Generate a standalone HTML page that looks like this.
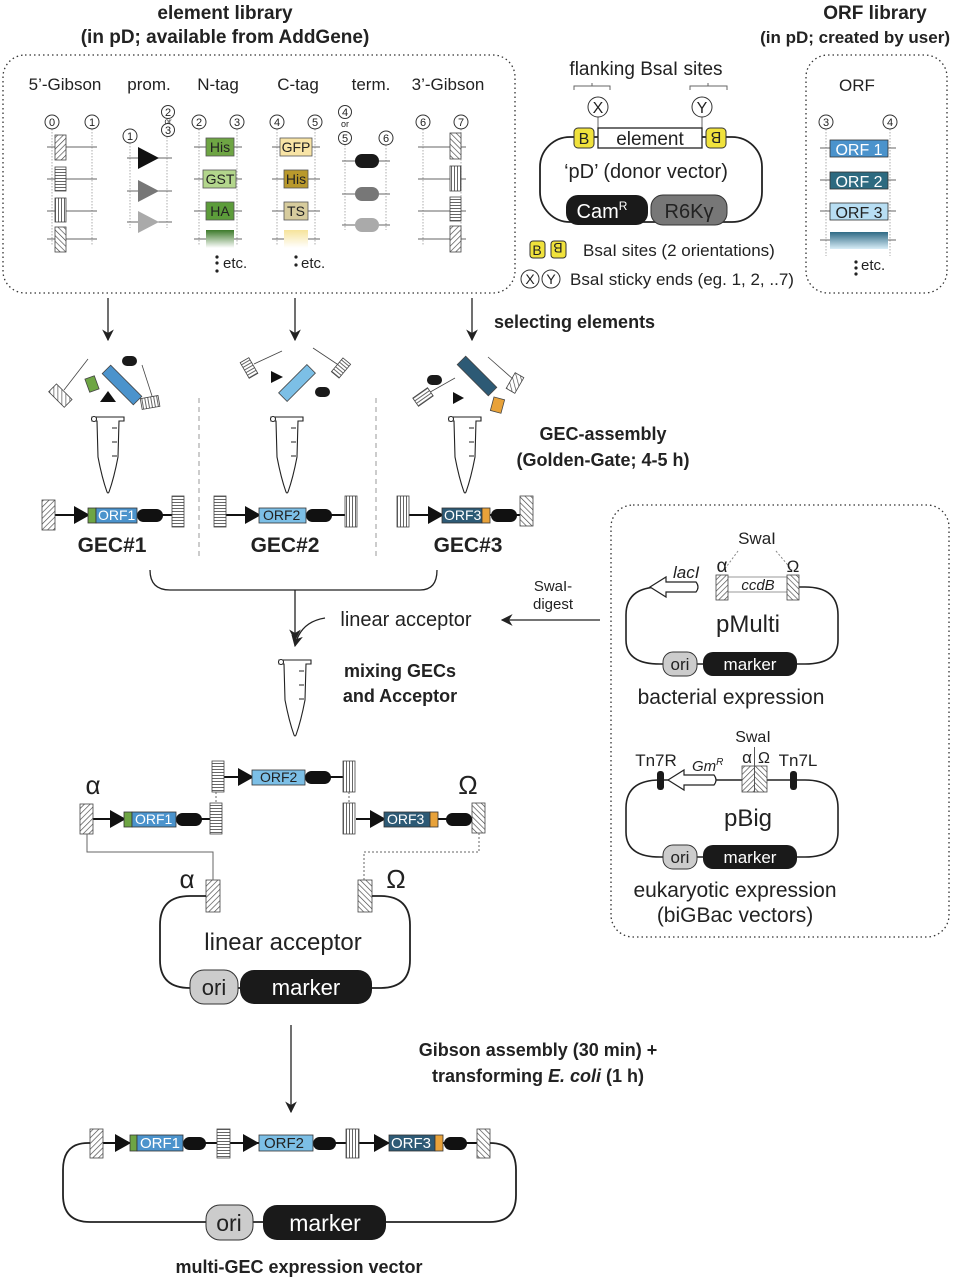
<!DOCTYPE html>
<html><head><meta charset="utf-8"><style>html,body{margin:0;padding:0;background:#fff}svg{display:block}text{font-family:"Liberation Sans",sans-serif;fill:#222}</style></head><body>
<svg width="953" height="1280" viewBox="0 0 953 1280" xmlns="http://www.w3.org/2000/svg">
<defs>
<pattern id="hd" width="4" height="4" patternUnits="userSpaceOnUse" patternTransform="rotate(45)"><rect width="4" height="4" fill="#fff"/><line x1="0" y1="0" x2="0" y2="4" stroke="#444" stroke-width="1.3"/></pattern>
<pattern id="hd2" width="4" height="4" patternUnits="userSpaceOnUse" patternTransform="rotate(-45)"><rect width="4" height="4" fill="#fff"/><line x1="0" y1="0" x2="0" y2="4" stroke="#444" stroke-width="1.3"/></pattern>
<pattern id="hh" width="3" height="3" patternUnits="userSpaceOnUse"><rect width="3" height="3" fill="#fff"/><line x1="0" y1="1.5" x2="3" y2="1.5" stroke="#555" stroke-width="0.9"/></pattern>
<pattern id="hv" width="3" height="3" patternUnits="userSpaceOnUse"><rect width="3" height="3" fill="#fff"/><line x1="1.5" y1="0" x2="1.5" y2="3" stroke="#555" stroke-width="0.9"/></pattern>
<linearGradient id="gg" x1="0" y1="0" x2="0" y2="1"><stop offset="0" stop-color="#3d7a2a"/><stop offset="1" stop-color="#fff"/></linearGradient>
<linearGradient id="gy" x1="0" y1="0" x2="0" y2="1"><stop offset="0" stop-color="#f6e39a"/><stop offset="1" stop-color="#fff"/></linearGradient>
<linearGradient id="gb" x1="0" y1="0" x2="0" y2="1"><stop offset="0" stop-color="#2f6a85"/><stop offset="1" stop-color="#d8edf7"/></linearGradient>
<marker id="ar" viewBox="0 0 10 10" refX="9" refY="5" markerWidth="9" markerHeight="9" orient="auto"><path d="M0,0 L10,5 L0,10 L3,5z" fill="#222"/></marker>
</defs>

<g font-weight="bold" font-size="19" text-anchor="middle">
<text x="225" y="19">element library</text><text x="225" y="43">(in pD; available from AddGene)</text>
<text x="875" y="19">ORF library</text><text x="950" y="43" font-size="17" text-anchor="end">(in pD; created by user)</text>
</g>

<rect x="3" y="55" width="512" height="238" rx="22" fill="none" stroke="#333" stroke-width="1.3" stroke-dasharray="1.5,3"/>
<g font-size="17" text-anchor="middle">
<text x="65" y="90">5’-Gibson</text><text x="149" y="90">prom.</text><text x="218" y="90">N-tag</text><text x="298" y="90">C-tag</text><text x="371" y="90">term.</text><text x="448" y="90">3’-Gibson</text>
</g>
<g stroke="#999" stroke-width="0.8" stroke-dasharray="1.5,1.5" fill="none">
<line x1="52" y1="129" x2="52" y2="245"/><line x1="92" y1="129" x2="92" y2="245"/>
<line x1="130" y1="143" x2="130" y2="228"/><line x1="167" y1="137" x2="167" y2="228"/>
<line x1="199" y1="129" x2="199" y2="245"/><line x1="237" y1="129" x2="237" y2="245"/>
<line x1="277" y1="129" x2="277" y2="245"/><line x1="315" y1="129" x2="315" y2="245"/>
<line x1="345" y1="145" x2="345" y2="230"/><line x1="386" y1="145" x2="386" y2="230"/>
<line x1="423" y1="129" x2="423" y2="245"/><line x1="461" y1="129" x2="461" y2="245"/>
<line x1="826" y1="129" x2="826" y2="256"/><line x1="890" y1="129" x2="890" y2="256"/>
</g>
<g fill="#fff" stroke="#333" stroke-width="1">
<circle cx="52" cy="122" r="7"/><circle cx="92" cy="122" r="7"/><circle cx="130" cy="136" r="7"/><circle cx="168" cy="130" r="6.5"/><circle cx="168" cy="112" r="6.5"/>
<circle cx="199" cy="122" r="7"/><circle cx="237" cy="122" r="7"/><circle cx="277" cy="122" r="7"/><circle cx="315" cy="122" r="7"/>
<circle cx="345" cy="138" r="6.5"/><circle cx="345" cy="112" r="6.5"/><circle cx="386" cy="138" r="7"/>
<circle cx="423" cy="122" r="7"/><circle cx="461" cy="122" r="7"/><circle cx="826" cy="122" r="7"/><circle cx="890" cy="122" r="7"/>
</g>
<g font-size="11" text-anchor="middle">
<text x="52" y="126">0</text><text x="92" y="126">1</text><text x="130" y="140">1</text><text x="168" y="134">3</text><text x="168" y="116">2</text><text x="168" y="124" font-size="8">or</text>
<text x="199" y="126">2</text><text x="237" y="126">3</text><text x="277" y="126">4</text><text x="315" y="126">5</text>
<text x="345" y="142">5</text><text x="345" y="116">4</text><text x="345" y="127" font-size="9">or</text><text x="386" y="142">6</text>
<text x="423" y="126">6</text><text x="461" y="126">7</text><text x="826" y="126">3</text><text x="890" y="126">4</text>
</g>
<g stroke="#666" stroke-width="1">
<line x1="47" y1="147" x2="97" y2="147"/><line x1="47" y1="179" x2="97" y2="179"/><line x1="47" y1="211" x2="97" y2="211"/><line x1="47" y1="239" x2="97" y2="239"/>
<line x1="127" y1="158" x2="172" y2="158"/><line x1="127" y1="191" x2="172" y2="191"/><line x1="127" y1="222" x2="172" y2="222"/>
<line x1="194" y1="147" x2="242" y2="147"/><line x1="194" y1="179" x2="242" y2="179"/><line x1="194" y1="211" x2="242" y2="211"/><line x1="194" y1="239" x2="242" y2="239"/>
<line x1="272" y1="147" x2="320" y2="147"/><line x1="272" y1="179" x2="320" y2="179"/><line x1="272" y1="211" x2="320" y2="211"/><line x1="272" y1="239" x2="320" y2="239"/>
<line x1="342" y1="161" x2="390" y2="161"/><line x1="342" y1="194" x2="390" y2="194"/><line x1="342" y1="225" x2="390" y2="225"/>
<line x1="418" y1="147" x2="466" y2="147"/><line x1="418" y1="179" x2="466" y2="179"/><line x1="418" y1="211" x2="466" y2="211"/><line x1="418" y1="239" x2="466" y2="239"/>
<line x1="820" y1="148" x2="896" y2="148"/><line x1="820" y1="180" x2="896" y2="180"/><line x1="820" y1="211" x2="896" y2="211"/><line x1="820" y1="240" x2="896" y2="240"/>
</g>
<g stroke="#444" stroke-width="0.8">
<rect x="55" y="135" width="11" height="25" fill="url(#hd)"/><rect x="55" y="167" width="11" height="24" fill="url(#hh)"/><rect x="55" y="198" width="11" height="24" fill="url(#hv)"/><rect x="55" y="227" width="11" height="25" fill="url(#hd2)"/>
<rect x="450" y="133" width="11" height="26" fill="url(#hd2)"/><rect x="450" y="166" width="11" height="25" fill="url(#hv)"/><rect x="450" y="197" width="11" height="24" fill="url(#hh)"/><rect x="450" y="226" width="11" height="26" fill="url(#hd)"/>
</g>
<path d="M138,147 L159,158 L138,169z" fill="#111"/><path d="M138,180 L159,191 L138,202z" fill="#777"/><path d="M138,211 L159,222 L138,233z" fill="#aaa"/>
<g stroke="#555" stroke-width="0.8">
<rect x="206" y="138" width="28" height="18" fill="#6ea544"/><rect x="203" y="170" width="33" height="18" fill="#b3d68c"/><rect x="206" y="202" width="28" height="18" fill="#5c9c3a"/>
<rect x="206" y="230" width="28" height="18" fill="url(#gg)" stroke="none"/>
<rect x="280" y="138" width="32" height="18" fill="#f8e4a6"/><rect x="284" y="170" width="24" height="18" fill="#b9992c"/><rect x="284" y="202" width="24" height="18" fill="#d7cc9d"/>
<rect x="284" y="230" width="24" height="18" fill="url(#gy)" stroke="none"/>
</g>
<g font-size="14" text-anchor="middle"><text x="220" y="152">His</text><text x="220" y="184">GST</text><text x="220" y="216">HA</text><text x="296" y="152">GFP</text><text x="296" y="184">His</text><text x="296" y="216">TS</text></g>
<rect x="355" y="154" width="24" height="14" rx="7" fill="#1a1a1a"/><rect x="355" y="187" width="24" height="14" rx="7" fill="#777"/><rect x="355" y="218" width="24" height="14" rx="7" fill="#aaa"/>
<g fill="#222"><circle cx="217" cy="257" r="1.6"/><circle cx="217" cy="263" r="1.6"/><circle cx="217" cy="271" r="1.6"/><circle cx="296" cy="257" r="1.6"/><circle cx="296" cy="265" r="1.6"/><circle cx="856" cy="262" r="1.6"/><circle cx="856" cy="268" r="1.6"/><circle cx="856" cy="274" r="1.6"/></g>
<g font-size="15"><text x="223" y="268">etc.</text><text x="301" y="268">etc.</text><text x="861" y="270">etc.</text></g>

<text x="646" y="75" font-size="19" text-anchor="middle">flanking BsaI sites</text>
<path d="M574,90 v-4 h36 v4 M592,86 v-3 M690,90 v-4 h37 v4 M708,86 v-3" stroke="#666" fill="none"/>
<line x1="598" y1="117" x2="598" y2="128" stroke="#666"/><line x1="702" y1="117" x2="702" y2="128" stroke="#666"/>
<circle cx="598" cy="107" r="10" fill="#fff" stroke="#333"/><circle cx="702" cy="107" r="10" fill="#fff" stroke="#333"/>
<text x="598" y="113" font-size="16" text-anchor="middle">X</text><text x="702" y="113" font-size="16" text-anchor="middle">Y</text>
<rect x="540" y="137" width="222" height="85" rx="30" fill="none" stroke="#222" stroke-width="1.8"/>
<rect x="598" y="128" width="104" height="20" fill="#fff" stroke="#222" stroke-width="1.3"/>
<text x="650" y="145" font-size="19" text-anchor="middle">element</text>
<rect x="574" y="128" width="20" height="20" rx="4" fill="#f0e23c" stroke="#333"/><rect x="706" y="128" width="20" height="20" rx="4" fill="#f0e23c" stroke="#333"/>
<text x="584" y="144" font-size="16" text-anchor="middle">B</text><text x="716" y="144" font-size="16" text-anchor="middle" transform="rotate(180 716 138)">B</text>
<text x="646" y="178" font-size="20" text-anchor="middle">‘pD’ (donor vector)</text>
<rect x="566" y="195" width="82" height="30" rx="12" fill="#1a1a1a"/><rect x="651" y="195" width="76" height="30" rx="12" fill="#777" stroke="#333"/>
<text x="602" y="218" font-size="20" text-anchor="middle" style="fill:#fff">Cam<tspan font-size="12" dy="-8">R</tspan></text>
<text x="689" y="218" font-size="20" text-anchor="middle" style="fill:#222">R6Kγ</text>
<rect x="530" y="241" width="15" height="17" rx="3" fill="#f0e23c" stroke="#333"/><rect x="551" y="241" width="15" height="17" rx="3" fill="#f0e23c" stroke="#333"/>
<text x="537" y="255" font-size="14" text-anchor="middle">B</text><text x="558" y="255" font-size="14" text-anchor="middle" transform="rotate(180 558 249)">B</text>
<text x="583" y="256" font-size="17">BsaI sites (2 orientations)</text>
<circle cx="530" cy="279" r="9" fill="#fff" stroke="#333"/><circle cx="551" cy="279" r="9" fill="#fff" stroke="#333"/>
<text x="530" y="284" font-size="14" text-anchor="middle">X</text><text x="551" y="284" font-size="14" text-anchor="middle">Y</text>
<text x="570" y="285" font-size="17">BsaI sticky ends (eg. 1, 2, ..7)</text>

<rect x="806" y="55" width="141" height="238" rx="22" fill="none" stroke="#333" stroke-width="1.3" stroke-dasharray="1.5,3"/>
<text x="857" y="91" font-size="17" text-anchor="middle">ORF</text>
<rect x="830" y="140" width="58" height="17" fill="#4b93cc" stroke="#333" stroke-width="0.8"/><rect x="830" y="172" width="58" height="17" fill="#2d6a80" stroke="#333" stroke-width="0.8"/><rect x="830" y="203" width="58" height="17" fill="#b8def3" stroke="#333" stroke-width="0.8"/><rect x="830" y="232" width="58" height="17" fill="url(#gb)"/>
<g font-size="16" text-anchor="middle"><text x="859" y="155" style="fill:#fff">ORF 1</text><text x="859" y="187" style="fill:#fff">ORF 2</text><text x="859" y="218">ORF 3</text></g>

<g stroke="#222" stroke-width="1.3" fill="none" marker-end="url(#ar)">
<line x1="108" y1="298" x2="108" y2="340"/><line x1="295" y1="298" x2="295" y2="340"/><line x1="472" y1="298" x2="472" y2="340"/>
<line x1="291" y1="1025" x2="291" y2="1112"/><line x1="600" y1="620" x2="502" y2="620"/>
<path d="M295,590 V640"/><path d="M325,618 Q300,622 295,646"/>
</g>
<text x="494" y="328" font-size="18" font-weight="bold">selecting elements</text>

<g stroke="#444" stroke-width="0.8">
<line x1="88" y1="359" x2="64" y2="390"/><rect x="55" y="385" width="11" height="22" fill="url(#hd)" transform="rotate(-45 60 396)"/>
<rect x="87" y="377" width="10" height="14" fill="#6ea544" transform="rotate(-20 92 384)"/>
<rect x="116" y="363" width="12" height="44" fill="#4b93cc" transform="rotate(-45 122 385)"/>
<line x1="142" y1="365" x2="153" y2="399"/><rect x="145" y="393" width="11" height="18" fill="url(#hh)" transform="rotate(80 150 402)"/>
<line x1="282" y1="351" x2="254" y2="364"/><rect x="244" y="359" width="10" height="18" fill="url(#hh)" transform="rotate(-30 249 368)"/>
<rect x="291" y="363" width="12" height="40" fill="#7cbfe6" transform="rotate(45 297 383)"/>
<line x1="313" y1="348" x2="340" y2="366"/><rect x="336" y="359" width="10" height="18" fill="url(#hh)" transform="rotate(40 341 368)"/>
<line x1="455" y1="378" x2="425" y2="395"/><rect x="418" y="388" width="10" height="18" fill="url(#hv)" transform="rotate(55 423 397)"/>
<rect x="471" y="354" width="12" height="44" fill="#2d5a75" transform="rotate(-45 477 376)"/>
<line x1="488" y1="357" x2="514" y2="380"/><rect x="510" y="374" width="10" height="18" fill="url(#hd2)" transform="rotate(30 515 383)"/>
<rect x="492" y="398" width="11" height="14" fill="#e8a23a" transform="rotate(15 497 405)"/>
</g>
<rect x="122" y="356" width="15" height="10" rx="5" fill="#1a1a1a"/><path d="M108,391 l8,11 h-16z" fill="#111"/>
<rect x="315" y="387" width="15" height="10" rx="5" fill="#1a1a1a"/><path d="M271,371 l12,6 l-12,6z" fill="#111"/>
<rect x="427" y="375" width="15" height="10" rx="5" fill="#1a1a1a"/><path d="M453,392 l11,6 l-11,6z" fill="#111"/>

<g fill="#fff" stroke="#222" stroke-width="1.1">
<path d="M92,417 H124 V421 H119 L118,457 Q114,478 109,492 Q108,494 107,492 Q102,478 98,457 L97,421 H92z"/><circle cx="94" cy="419" r="2.5"/>
<path d="M271,417 H303 V421 H298 L297,457 Q293,478 288,492 Q287,494 286,492 Q281,478 277,457 L276,421 H271z"/><circle cx="273" cy="419" r="2.5"/>
<path d="M449,417 H481 V421 H476 L475,457 Q471,478 466,492 Q465,494 464,492 Q459,478 455,457 L454,421 H449z"/><circle cx="451" cy="419" r="2.5"/>
<path d="M279,660 H311 V664 H306 L305,700 Q301,721 296,735 Q295,737 294,735 Q289,721 285,700 L284,664 H279z"/><circle cx="281" cy="662" r="2.5"/>
</g>
<g stroke="#222" stroke-width="1"><line x1="112" y1="428" x2="117" y2="428"/><line x1="112" y1="442" x2="117" y2="442"/><line x1="112" y1="456" x2="117" y2="456"/>
<line x1="291" y1="428" x2="296" y2="428"/><line x1="291" y1="442" x2="296" y2="442"/><line x1="291" y1="456" x2="296" y2="456"/>
<line x1="469" y1="428" x2="474" y2="428"/><line x1="469" y1="442" x2="474" y2="442"/><line x1="469" y1="456" x2="474" y2="456"/>
<line x1="299" y1="671" x2="304" y2="671"/><line x1="299" y1="685" x2="304" y2="685"/><line x1="299" y1="699" x2="304" y2="699"/></g>
<g stroke="#999" stroke-dasharray="5,4"><line x1="199" y1="398" x2="199" y2="560"/><line x1="376" y1="398" x2="376" y2="560"/></g>
<g font-weight="bold" font-size="18" text-anchor="middle"><text x="603" y="440">GEC-assembly</text><text x="603" y="466">(Golden-Gate; 4-5 h)</text>
<text x="400" y="677">mixing GECs</text><text x="400" y="702">and Acceptor</text></g>
<g font-weight="bold" font-size="21" text-anchor="middle"><text x="112" y="552">GEC#1</text><text x="285" y="552">GEC#2</text><text x="468" y="552">GEC#3</text></g>

<g stroke="#111" stroke-width="2">
<line x1="55" y1="515" x2="172" y2="515"/><line x1="226" y1="515" x2="345" y2="515"/><line x1="409" y1="515" x2="520" y2="515"/>
<line x1="93" y1="819" x2="212" y2="819"/><line x1="224" y1="777" x2="343" y2="777"/><line x1="356" y1="819" x2="472" y2="819"/>
<line x1="103" y1="1143" x2="217" y2="1143"/><line x1="230" y1="1143" x2="346" y2="1143"/><line x1="359" y1="1143" x2="477" y2="1143"/>
</g>
<g stroke="#444" stroke-width="0.8">
<rect x="42" y="500" width="13" height="30" fill="url(#hd)"/><rect x="172" y="496" width="12" height="31" fill="url(#hh)"/>
<rect x="214" y="496" width="12" height="31" fill="url(#hh)"/><rect x="345" y="496" width="12" height="31" fill="url(#hv)"/>
<rect x="397" y="496" width="12" height="31" fill="url(#hv)"/><rect x="520" y="496" width="13" height="30" fill="url(#hd2)"/>
<rect x="80" y="804" width="13" height="30" fill="url(#hd)"/><rect x="210" y="803" width="12" height="31" fill="url(#hh)"/>
<rect x="212" y="761" width="12" height="31" fill="url(#hh)"/><rect x="343" y="761" width="12" height="31" fill="url(#hv)"/>
<rect x="343" y="803" width="12" height="31" fill="url(#hv)"/><rect x="472" y="803" width="13" height="30" fill="url(#hd2)"/>
<rect x="206" y="880" width="14" height="32" fill="url(#hd)"/><rect x="358" y="880" width="14" height="32" fill="url(#hd2)"/>
<rect x="90" y="1129" width="13" height="29" fill="url(#hd)"/><rect x="217" y="1129" width="13" height="29" fill="url(#hh)"/><rect x="346" y="1129" width="13" height="29" fill="url(#hv)"/><rect x="477" y="1129" width="13" height="29" fill="url(#hd2)"/>
</g>
<g fill="#111">
<path d="M74,506 l16,9 l-16,9z"/><path d="M245,506 l16,9 l-16,9z"/><path d="M428,506 l16,9 l-16,9z"/>
<path d="M110,810 l16,9 l-16,9z"/><path d="M238,768 l16,9 l-16,9z"/><path d="M370,810 l16,9 l-16,9z"/>
<path d="M115,1134 l16,9 l-16,9z"/><path d="M243,1134 l16,9 l-16,9z"/><path d="M374,1134 l16,9 l-16,9z"/>
<rect x="137" y="509" width="26" height="13" rx="6.5"/><rect x="306" y="509" width="26" height="13" rx="6.5"/><rect x="491" y="509" width="26" height="13" rx="6.5"/>
<rect x="176" y="813" width="26" height="13" rx="6.5"/><rect x="305" y="771" width="26" height="13" rx="6.5"/><rect x="446" y="813" width="26" height="13" rx="6.5"/>
<rect x="183" y="1137" width="23" height="13" rx="6.5"/><rect x="313" y="1137" width="23" height="13" rx="6.5"/><rect x="444" y="1137" width="23" height="13" rx="6.5"/>
</g>
<g stroke="#333" stroke-width="0.8">
<rect x="88" y="508" width="8" height="15" fill="#6ea544"/><rect x="96" y="508" width="41" height="15" fill="#4b93cc"/>
<rect x="259" y="508" width="47" height="15" fill="#7cbfe6"/>
<rect x="442" y="508" width="40" height="15" fill="#2d5a75"/><rect x="482" y="508" width="8" height="15" fill="#e8a23a"/>
<rect x="124" y="812" width="8" height="15" fill="#6ea544"/><rect x="132" y="812" width="44" height="15" fill="#4b93cc"/>
<rect x="252" y="770" width="53" height="15" fill="#7cbfe6"/>
<rect x="384" y="812" width="46" height="15" fill="#2d5a75"/><rect x="430" y="812" width="8" height="15" fill="#e8a23a"/>
<rect x="130" y="1135" width="7" height="16" fill="#6ea544"/><rect x="137" y="1135" width="46" height="16" fill="#4b93cc"/>
<rect x="259" y="1135" width="54" height="16" fill="#7cbfe6"/>
<rect x="389" y="1135" width="46" height="16" fill="#2d5a75"/><rect x="435" y="1135" width="8" height="16" fill="#e8a23a"/>
</g>
<g font-size="14"><text x="98" y="520" style="fill:#fff">ORF1</text><text x="263" y="520">ORF2</text><text x="444" y="520" style="fill:#fff">ORF3</text>
<text x="135" y="824" style="fill:#fff">ORF1</text><text x="260" y="782">ORF2</text><text x="387" y="824" style="fill:#fff">ORF3</text>
<text x="140" y="1148" font-size="15" style="fill:#fff">ORF1</text><text x="264" y="1148" font-size="15">ORF2</text><text x="391" y="1148" font-size="15" style="fill:#fff">ORF3</text></g>

<path d="M150,570 Q150,590 170,590 H420 Q437,590 437,570" fill="none" stroke="#222" stroke-width="1.3"/>
<text x="406" y="626" font-size="20" text-anchor="middle">linear acceptor</text>
<text x="553" y="591" font-size="15" text-anchor="middle">SwaI-</text><text x="553" y="609" font-size="15" text-anchor="middle">digest</text>

<line x1="216" y1="792" x2="216" y2="803" stroke="#666" stroke-dasharray="2,2"/><line x1="349" y1="792" x2="349" y2="803" stroke="#666" stroke-dasharray="2,2"/>
<path d="M87,834 V852 H213 V880" fill="none" stroke="#666"/>
<path d="M479,833 V852 H364 V880" fill="none" stroke="#666" stroke-dasharray="2,2"/>
<g font-size="26" text-anchor="middle"><text x="93" y="794">α</text><text x="468" y="794">Ω</text><text x="187" y="888">α</text><text x="396" y="888">Ω</text></g>

<path d="M206,896 H190 Q160,896 160,925 V960 Q160,988 190,988 H380 Q410,988 410,960 V925 Q410,896 380,896 H372" fill="none" stroke="#222" stroke-width="1.8"/>
<text x="283" y="950" font-size="24" text-anchor="middle">linear acceptor</text>
<rect x="190" y="970" width="48" height="34" rx="14" fill="#ccc" stroke="#333"/><rect x="240" y="970" width="132" height="34" rx="14" fill="#1a1a1a"/>
<text x="214" y="995" font-size="22" text-anchor="middle">ori</text><text x="306" y="995" font-size="22" text-anchor="middle" style="fill:#fff">marker</text>

<g font-weight="bold" font-size="18" text-anchor="middle"><text x="538" y="1056">Gibson assembly (30 min) +</text><text x="538" y="1082">transforming <tspan font-style="italic">E. coli</tspan> (1 h)</text>
<text x="299" y="1273">multi-GEC expression vector</text></g>

<path d="M90,1143 H88 Q63,1143 63,1170 V1195 Q63,1222 90,1222 H490 Q516,1222 516,1195 V1170 Q516,1143 490,1143" fill="none" stroke="#222" stroke-width="1.8"/>
<rect x="206" y="1205" width="47" height="35" rx="14" fill="#ccc" stroke="#333"/><rect x="263" y="1205" width="123" height="35" rx="14" fill="#1a1a1a"/>
<text x="229" y="1231" font-size="23" text-anchor="middle">ori</text><text x="325" y="1231" font-size="23" text-anchor="middle" style="fill:#fff">marker</text>

<rect x="611" y="505" width="338" height="432" rx="22" fill="none" stroke="#333" stroke-width="1.3" stroke-dasharray="1.5,3"/>
<text x="757" y="544" font-size="17" text-anchor="middle">SwaI</text>
<path d="M738,551 L724,570 M776,551 L792,570" stroke="#888" stroke-dasharray="2,2" fill="none"/>
<path d="M697,587 H660 Q626,587 626,615 V640 Q626,664 660,664 H805 Q838,664 838,640 V615 Q838,587 805,587 H798" fill="none" stroke="#222" stroke-width="1.6"/>
<line x1="728" y1="577" x2="788" y2="577" stroke="#999"/><line x1="728" y1="592" x2="788" y2="592" stroke="#999"/>
<text x="758" y="590" font-size="15" font-style="italic" text-anchor="middle">ccdB</text>
<rect x="716" y="575" width="12" height="25" fill="url(#hd)" stroke="#444" stroke-width="0.8"/><rect x="787" y="575" width="12" height="25" fill="url(#hd2)" stroke="#444" stroke-width="0.8"/>
<text x="722" y="572" font-size="19" text-anchor="middle">α</text><text x="793" y="572" font-size="17" text-anchor="middle">Ω</text>
<path d="M696,582 H666 V577 L650,587 L666,597 V592 H696 Q700,587 696,582z" fill="#fff" stroke="#222" stroke-width="1.2"/>
<text x="673" y="578" font-size="17" font-style="italic">lacI</text>
<text x="748" y="632" font-size="24" text-anchor="middle">pMulti</text>
<rect x="663" y="652" width="34" height="24" rx="10" fill="#ccc" stroke="#333"/><rect x="703" y="652" width="94" height="24" rx="10" fill="#1a1a1a"/>
<text x="680" y="670" font-size="17" text-anchor="middle">ori</text><text x="750" y="670" font-size="17" text-anchor="middle" style="fill:#fff">marker</text>
<text x="731" y="704" font-size="21" text-anchor="middle">bacterial expression</text>

<text x="753" y="742" font-size="16" text-anchor="middle">SwaI</text>
<text x="656" y="766" font-size="17" text-anchor="middle">Tn7R</text><text x="798" y="766" font-size="17" text-anchor="middle">Tn7L</text>
<path d="M742,780 H660 Q626,780 626,808 V832 Q626,857 660,857 H805 Q838,857 838,832 V808 Q838,780 805,780 H767" fill="none" stroke="#222" stroke-width="1.6"/>
<rect x="742" y="766" width="12.5" height="26" fill="url(#hd)" stroke="#444" stroke-width="0.8"/><rect x="754.5" y="766" width="12.5" height="26" fill="url(#hd2)" stroke="#444" stroke-width="0.8"/>
<line x1="754.5" y1="747" x2="754.5" y2="792" stroke="#555"/>
<text x="747" y="763" font-size="17" text-anchor="middle">α</text><text x="764" y="763" font-size="16" text-anchor="middle">Ω</text>
<rect x="657" y="771" width="7" height="19" rx="3" fill="#1a1a1a"/><rect x="790" y="771" width="7" height="19" rx="3" fill="#1a1a1a"/>
<path d="M714,775 H684 V770 L668,780 L684,790 V785 H714 Q718,780 714,775z" fill="#fff" stroke="#222" stroke-width="1.2"/>
<text x="692" y="771" font-size="15" font-style="italic">Gm<tspan font-size="10" dy="-6">R</tspan></text>
<text x="748" y="826" font-size="24" text-anchor="middle">pBig</text>
<rect x="663" y="845" width="34" height="24" rx="10" fill="#ccc" stroke="#333"/><rect x="703" y="845" width="94" height="24" rx="10" fill="#1a1a1a"/>
<text x="680" y="863" font-size="17" text-anchor="middle">ori</text><text x="750" y="863" font-size="17" text-anchor="middle" style="fill:#fff">marker</text>
<text x="735" y="897" font-size="21" text-anchor="middle">eukaryotic expression</text>
<text x="735" y="922" font-size="21" text-anchor="middle">(biGBac vectors)</text>
</svg>
</body></html>
